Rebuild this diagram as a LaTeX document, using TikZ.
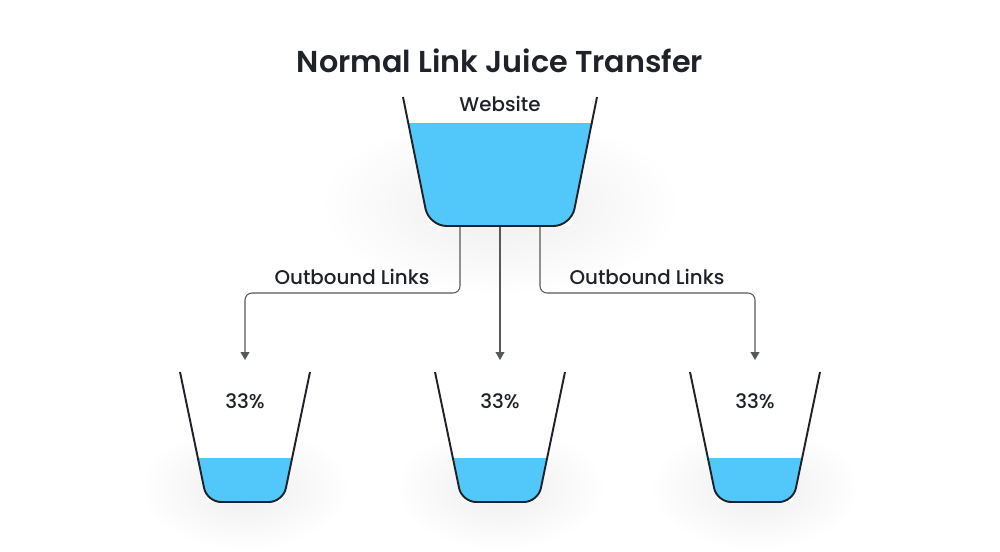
\documentclass[tikz,border=0pt]{standalone}
\usepackage{fontspec}
\setmainfont{Poppins}
\newfontfamily\mediumfont{Poppins Medium}
\newfontfamily\semiboldfont{Poppins SemiBold}
\usetikzlibrary{arrows.meta,calc,positioning}
\definecolor{inkdark}{HTML}{1F2329}
\definecolor{waterblue}{HTML}{52C7FA}
\definecolor{linkgray}{HTML}{55585D}
\tikzset{
  glass/.style={line width=1.1pt,inkdark,line join=round},
  water/.style={fill=waterblue},
  glassshadow/.style={inner color=black!7,outer color=white},
  link/.style={-{Triangle[width=5pt,length=4.5pt]},line width=0.6pt,linkgray,rounded corners=4pt},
  label/.style={font=\mediumfont\fontsize{11.3}{13}\selectfont,text=inkdark},
  heading/.style={font=\semiboldfont\fontsize{17.2}{20}\selectfont,text=inkdark}
}
\begin{document}
\begin{tikzpicture}[x=0.02cm,y=-0.02cm]
  \useasboundingbox[fill=white] (0,0) rectangle (1000,551);
  \node[heading] (title) at (500,61) {Normal Link Juice Transfer};
  % soft shadows
  \shade[glassshadow] (500,205) ellipse [x radius=180,y radius=90];
  \shade[glassshadow] (245,488) ellipse [x radius=105,y radius=62];
  \shade[glassshadow] (500,488) ellipse [x radius=105,y radius=62];
  \shade[glassshadow] (755,488) ellipse [x radius=105,y radius=62];
  % website cup
  \fill[white] (403,97) -- (429,226) -- (571,226) -- (597,97) -- cycle;
  \fill[water] (408,123) [rounded corners=10pt] -- (429,226) -- (571,226) [sharp corners] -- (592,123) -- cycle;
  \draw[glass,rounded corners=10pt] (403,97) -- (429,226) -- (571,226) -- (597,97);
  \node[label] (web) at (500,104) {Website};
  % target cups
  \fill[white] (180,372) -- (207,502) -- (283,502) -- (310,372) -- cycle;
  \fill[white] (435,372) -- (462,502) -- (538,502) -- (565,372) -- cycle;
  \fill[white] (690,372) -- (717,502) -- (793,502) -- (820,372) -- cycle;
  \fill[water] (198,458) [rounded corners=8pt] -- (207,502) -- (283,502) [sharp corners] -- (292,458) -- cycle;
  \fill[water] (453,458) [rounded corners=8pt] -- (462,502) -- (538,502) [sharp corners] -- (547,458) -- cycle;
  \fill[water] (708,458) [rounded corners=8pt] -- (717,502) -- (793,502) [sharp corners] -- (802,458) -- cycle;
  \draw[glass,rounded corners=8pt] (180,372) -- (207,502) -- (283,502) -- (310,372);
  \draw[glass,rounded corners=8pt] (435,372) -- (462,502) -- (538,502) -- (565,372);
  \draw[glass,rounded corners=8pt] (690,372) -- (717,502) -- (793,502) -- (820,372);
  \node[label] (shareA) at (245,401) {33\%};
  \node[label] (shareB) at (500,401) {33\%};
  \node[label] (shareC) at (755,401) {33\%};
  % connectors
  \coordinate (outA) at (460,227);
  \coordinate (outB) at (500,227);
  \coordinate (outC) at (540,227);
  \coordinate (bendA) at (460,293);
  \coordinate (bendC) at (540,293);
  \coordinate (inA) at (245,360);
  \coordinate (inB) at (500,360);
  \coordinate (inC) at (755,360);
  \draw[link] (outA) -- (bendA) -| (inA);
  \draw[link] (outB) -- (inB);
  \draw[link] (outC) -- (bendC) -| (inC);
  \node[label] (linksA) at (352,277) {Outbound Links};
  \node[label] (linksC) at (647,277) {Outbound Links};
\end{tikzpicture}
\end{document}
